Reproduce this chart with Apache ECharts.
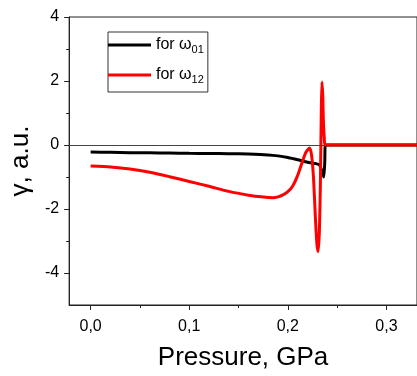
<!DOCTYPE html>
<html><head><meta charset="utf-8">
<script src="https://cdn.jsdelivr.net/npm/echarts@6/dist/echarts.min.js"></script>
<style>html,body{margin:0;padding:0;background:#fff}#c{width:417px;height:376px}</style>
</head><body><div id="c"></div>
<script>
// Pressure (GPa) and gamma (a.u.)
const pressure01 = [0, 0.02, 0.04, 0.06, 0.08, 0.10, 0.12, 0.14, 0.16, 0.18, 0.19, 0.20, 0.21, 0.22, 0.228, 0.232, 0.235, 0.2365, 0.2375, 0.238, 0.26, 0.30, 0.34];
const gamma01    = [-0.22, -0.23, -0.24, -0.245, -0.25, -0.26, -0.265, -0.27, -0.285, -0.31, -0.34, -0.39, -0.46, -0.54, -0.58, -0.62, -0.85, -1.0, -0.5, 0, 0, 0, 0];
const pressure12 = [0, 0.02, 0.04, 0.06, 0.08, 0.10, 0.12, 0.14, 0.16, 0.17, 0.18, 0.185, 0.19, 0.195, 0.20, 0.205, 0.21, 0.215, 0.218, 0.222, 0.224, 0.226, 0.228, 0.2295, 0.2307, 0.232, 0.233, 0.234, 0.2346, 0.2355, 0.236, 0.237, 0.238, 0.26, 0.30, 0.34];
const gamma12    = [-0.66, -0.69, -0.75, -0.85, -0.99, -1.14, -1.29, -1.45, -1.57, -1.61, -1.64, -1.645, -1.62, -1.56, -1.46, -1.28, -0.95, -0.5, -0.25, -0.09, -0.3, -1.0, -2.3, -3.1, -3.33, -2.7, -1.26, 1.2, 1.97, 1.5, 0.8, 0.2, 0, 0, 0, 0];
const xMajorTicks = [0, 0.1, 0.2, 0.3];
const xMinorTicks = [0.05, 0.15, 0.25];
const yMajorTicks = [-4, -2, 0, 2, 4];
const yMinorTicks = [-3, -1, 1, 3];
const seriesNames = ['for ω{sub|01}', 'for ω{sub|12}'];

const FONT = 'Liberation Sans, Arial, sans-serif';
const AX = '#222';
const xMin = -0.0218, xMax = 0.331, yMin = -5, yMax = 4;

const zip = (a, b) => a.map((v, i) => [v, b[i]]);

const chart = echarts.init(document.getElementById('c'), null, {renderer: 'canvas'});
chart.setOption({
  animation: false,
  grid: {left: 66, top: 17, right: -10, bottom: 69, show: true, borderColor: AX, borderWidth: 1, backgroundColor: 'transparent'},
  legend: {
    left: 108, top: 32, orient: 'vertical',
    borderColor: '#333', borderWidth: 1,
    padding: [3, 4, 7, 0],
    itemGap: 10, itemWidth: 43, itemHeight: 3, icon: 'rect',
    textStyle: {
      fontFamily: FONT, fontSize: 16, color: '#000', lineHeight: 20,
      rich: {sub: {fontFamily: FONT, fontSize: 11, color: '#000', verticalAlign: 'bottom', padding: [6, 0, 0, 0]}}
    },
    data: [{name: seriesNames[0]}, {name: seriesNames[1]}]
  },
  xAxis: [{
    type: 'value', min: xMin, max: xMax, position: 'bottom',
    name: 'Pressure, GPa', nameLocation: 'middle', nameGap: 40,
    nameTextStyle: {fontFamily: FONT, fontSize: 26, color: '#000'},
    axisLine: {show: true, onZero: false, lineStyle: {color: AX, width: 1}},
    axisTick: {show: true, length: 5, customValues: xMajorTicks, lineStyle: {color: AX}},
    axisLabel: {customValues: xMajorTicks, margin: 14, fontFamily: FONT, fontSize: 16, color: '#000',
      formatter: v => v.toFixed(1).replace('.', ',')},
    splitLine: {show: false}
  }, {
    type: 'value', min: xMin, max: xMax, position: 'bottom', gridIndex: 0,
    axisLine: {show: false, onZero: false},
    axisTick: {show: true, length: 3, customValues: xMinorTicks, lineStyle: {color: AX}},
    axisLabel: {show: false}, splitLine: {show: false}
  }],
  yAxis: [{
    type: 'value', min: yMin, max: yMax, position: 'left',
    name: 'γ, a.u.', nameLocation: 'middle', nameGap: 26, nameRotate: 90,
    nameTextStyle: {fontFamily: FONT, fontSize: 26, color: '#000'},
    axisLine: {show: true, onZero: false, lineStyle: {color: AX, width: 1}},
    axisTick: {show: true, length: 5, customValues: yMajorTicks, lineStyle: {color: AX}},
    axisLabel: {customValues: yMajorTicks, margin: 10, fontFamily: FONT, fontSize: 16, color: '#000'},
    splitLine: {show: false}
  }, {
    type: 'value', min: yMin, max: yMax, position: 'left',
    axisLine: {show: false, onZero: false},
    axisTick: {show: true, length: 3, customValues: yMinorTicks, lineStyle: {color: AX}},
    axisLabel: {show: false}, splitLine: {show: false}
  }],
  series: [{
    name: seriesNames[0], type: 'line', data: zip(pressure01, gamma01),
    showSymbol: false, symbol: 'none', smooth: 0.2,
    lineStyle: {color: '#000', width: 3}, itemStyle: {color: '#000'},
    markLine: {silent: true, symbol: 'none', label: {show: false},
      lineStyle: {color: '#444', width: 1, type: 'solid'}, data: [{yAxis: 0}]},
    z: 2
  }, {
    name: seriesNames[1], type: 'line', data: zip(pressure12, gamma12),
    showSymbol: false, symbol: 'none', smooth: 0.2,
    lineStyle: {color: '#ff0000', width: 3}, itemStyle: {color: '#ff0000'},
    z: 3
  }]
});
</script></body></html>
